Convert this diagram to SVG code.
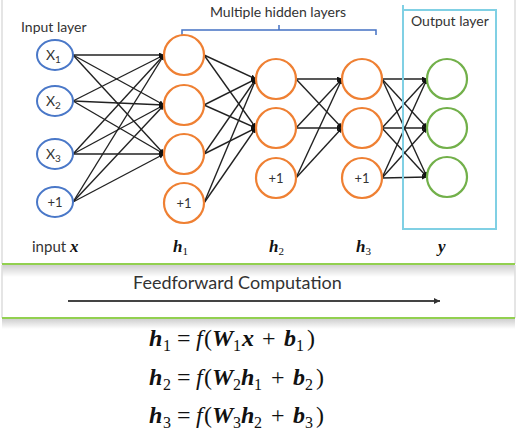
<svg xmlns="http://www.w3.org/2000/svg" width="517" height="444" viewBox="0 0 517 444">
<defs>
<marker id="ah" viewBox="0 0 6 6" refX="6" refY="3" markerWidth="5" markerHeight="5" markerUnits="userSpaceOnUse" orient="auto"><path d="M0,0 L6,3 L0,6 z" fill="#111"/></marker>
<marker id="ah2" viewBox="0 0 6 6" refX="6" refY="3" markerWidth="6" markerHeight="6" markerUnits="userSpaceOnUse" orient="auto"><path d="M0,0 L6,3 L0,6 z" fill="#333"/></marker>
<linearGradient id="sh" x1="0" y1="0" x2="0" y2="1"><stop offset="0" stop-color="#cfcfcf"/><stop offset="1" stop-color="#ffffff"/></linearGradient>
</defs>
<style>
.lab{font-family:Lato,"Liberation Sans",sans-serif;fill:#333;}
.in{fill:#fff;stroke:#4a78c8;stroke-width:2;}
.hid{fill:#fff;stroke:#ef8033;stroke-width:2.2;}
.out{fill:#fff;stroke:#72b04a;stroke-width:2.2;}
.c line{stroke:#222;stroke-width:1.4;marker-end:url(#ah);}
.math{font-family:"Liberation Serif","DejaVu Serif",serif;fill:#111;}
.bi{font-weight:bold;font-style:italic;}
.eq{font-size:24px;}
.eq .s{font-size:16px;}
</style>
<rect x="0" y="0" width="517" height="444" fill="#fff"/>
<g id="panels">
<line x1="2" y1="0" x2="2" y2="264" stroke="#ddd" stroke-width="1.5"/>
<line x1="515" y1="0" x2="515" y2="264" stroke="#ddd" stroke-width="1.5"/>
<rect x="2" y="265" width="513" height="12" fill="url(#sh)"/>
<line x1="2" y1="265" x2="2" y2="318" stroke="#ddd" stroke-width="1.5"/>
<line x1="515" y1="265" x2="515" y2="318" stroke="#ddd" stroke-width="1.5"/>
<rect x="2" y="319" width="513" height="10" fill="url(#sh)"/>
<line x1="2" y1="264" x2="515" y2="264" stroke="#92d050" stroke-width="2"/>
<line x1="2" y1="318" x2="515" y2="318" stroke="#92d050" stroke-width="2"/>
</g>
<g id="connectors" class="c">
<line x1="73" y1="55" x2="164" y2="55"/><line x1="73" y1="55" x2="164" y2="105"/><line x1="73" y1="55" x2="164" y2="154"/>
<line x1="73" y1="101" x2="164" y2="55"/><line x1="73" y1="101" x2="164" y2="105"/><line x1="73" y1="101" x2="164" y2="154"/>
<line x1="73" y1="154" x2="164" y2="55"/><line x1="73" y1="154" x2="164" y2="105"/><line x1="73" y1="154" x2="164" y2="154"/>
<line x1="73" y1="202" x2="164" y2="55"/><line x1="73" y1="202" x2="164" y2="105"/><line x1="73" y1="202" x2="164" y2="154"/>
<line x1="204" y1="55" x2="256" y2="79"/><line x1="204" y1="55" x2="256" y2="128"/>
<line x1="204" y1="105" x2="256" y2="79"/><line x1="204" y1="105" x2="256" y2="128"/>
<line x1="204" y1="154" x2="256" y2="79"/><line x1="204" y1="154" x2="256" y2="128"/>
<line x1="204" y1="203" x2="256" y2="79"/><line x1="204" y1="203" x2="256" y2="128"/>
<line x1="296" y1="79" x2="342" y2="79"/><line x1="296" y1="79" x2="342" y2="128"/>
<line x1="296" y1="128" x2="342" y2="79"/><line x1="296" y1="128" x2="342" y2="128"/>
<line x1="296" y1="178" x2="342" y2="79"/><line x1="296" y1="178" x2="342" y2="128"/>
<line x1="382" y1="79" x2="427" y2="79"/><line x1="382" y1="79" x2="427" y2="128"/><line x1="382" y1="79" x2="427" y2="177"/>
<line x1="382" y1="128" x2="427" y2="79"/><line x1="382" y1="128" x2="427" y2="128"/><line x1="382" y1="128" x2="427" y2="177"/>
<line x1="382" y1="178" x2="427" y2="79"/><line x1="382" y1="178" x2="427" y2="128"/><line x1="382" y1="178" x2="427" y2="177"/>
</g>
<g id="hidden-bracket">
<path d="M182,36 V30 H376 V35 M279,30 V25" fill="none" stroke="#4472c4" stroke-width="1.5"/>
<text class="lab" x="210" y="17" font-size="14">Multiple hidden layers</text>
</g>
<g id="output-layer">
<path d="M403,5 V229 H496 V10 H403" fill="none" stroke="#80d0e4" stroke-width="2"/>
<text class="lab" x="411" y="26" font-size="14">Output layer</text>
</g>
<g id="input-layer-label"><text class="lab" x="21" y="32" font-size="14">Input layer</text></g>
<g id="x1"><ellipse class="in" cx="55" cy="55" rx="18" ry="15"/><text class="lab" x="46" y="60" font-size="14">X<tspan font-size="10" dy="3">1</tspan></text></g>
<g id="x2"><ellipse class="in" cx="55" cy="101" rx="18" ry="15"/><text class="lab" x="46" y="106" font-size="14">X<tspan font-size="10" dy="3">2</tspan></text></g>
<g id="x3"><ellipse class="in" cx="55" cy="154" rx="18" ry="15"/><text class="lab" x="46" y="159" font-size="14">X<tspan font-size="10" dy="3">3</tspan></text></g>
<g id="xb"><ellipse class="in" cx="55" cy="202" rx="18" ry="15"/><text class="lab" x="55" y="207" font-size="13" text-anchor="middle">+1</text></g>
<g id="h1a"><circle class="hid" cx="184" cy="55" r="20"/></g>
<g id="h1b"><circle class="hid" cx="184" cy="105" r="20"/></g>
<g id="h1c"><circle class="hid" cx="184" cy="154" r="20"/></g>
<g id="h1d"><circle class="hid" cx="184" cy="203" r="20"/><text class="lab" x="184" y="208" font-size="13" text-anchor="middle">+1</text></g>
<g id="h2a"><circle class="hid" cx="276" cy="79" r="20"/></g>
<g id="h2b"><circle class="hid" cx="276" cy="128" r="20"/></g>
<g id="h2c"><circle class="hid" cx="276" cy="178" r="20"/><text class="lab" x="276" y="183" font-size="13" text-anchor="middle">+1</text></g>
<g id="h3a"><circle class="hid" cx="362" cy="79" r="20"/></g>
<g id="h3b"><circle class="hid" cx="362" cy="128" r="20"/></g>
<g id="h3c"><circle class="hid" cx="362" cy="178" r="20"/><text class="lab" x="362" y="183" font-size="13" text-anchor="middle">+1</text></g>
<g id="ya"><circle class="out" cx="447" cy="79" r="20"/></g>
<g id="yb"><circle class="out" cx="447" cy="128" r="20"/></g>
<g id="yc"><circle class="out" cx="447" cy="177" r="20"/></g>
<g id="bottom-labels">
<text class="lab" x="32" y="252" font-size="15">input <tspan class="math bi" font-size="17">x</tspan></text>
<text class="math bi" x="173" y="252" font-size="17">h<tspan font-size="11" dy="3" font-weight="normal" font-style="normal">1</tspan></text>
<text class="math bi" x="269" y="252" font-size="17">h<tspan font-size="11" dy="3" font-weight="normal" font-style="normal">2</tspan></text>
<text class="math bi" x="356" y="252" font-size="17">h<tspan font-size="11" dy="3" font-weight="normal" font-style="normal">3</tspan></text>
<text class="math bi" x="438" y="252" font-size="17">y</text>
</g>
<g id="feedforward">
<text class="lab" x="133" y="289" font-size="18" fill="#222">Feedforward Computation</text>
<line x1="68" y1="301" x2="440" y2="301" stroke="#444" stroke-width="2" marker-end="url(#ah2)"/>
</g>
<g id="equations" class="math eq">
<text y="346"><tspan class="bi" x="149">h</tspan><tspan class="s" x="163" dy="5">1</tspan><tspan x="177" dy="-5">=</tspan><tspan x="196" font-style="italic">f</tspan><tspan x="204">(</tspan><tspan class="bi" x="212">W</tspan><tspan class="s" x="233" dy="5">1</tspan><tspan class="bi" x="242" dy="-5">x</tspan><tspan x="262">+</tspan><tspan class="bi" x="284">b</tspan><tspan class="s" x="296" dy="5">1</tspan><tspan x="307" dy="-5">)</tspan></text>
<text y="385"><tspan class="bi" x="149">h</tspan><tspan class="s" x="163" dy="5">2</tspan><tspan x="177" dy="-5">=</tspan><tspan x="196" font-style="italic">f</tspan><tspan x="204">(</tspan><tspan class="bi" x="212">W</tspan><tspan class="s" x="233" dy="5">2</tspan><tspan class="bi" x="241" dy="-5">h</tspan><tspan class="s" x="254" dy="5">1</tspan><tspan x="271" dy="-5">+</tspan><tspan class="bi" x="293">b</tspan><tspan class="s" x="305" dy="5">2</tspan><tspan x="316" dy="-5">)</tspan></text>
<text y="423"><tspan class="bi" x="149">h</tspan><tspan class="s" x="163" dy="5">3</tspan><tspan x="177" dy="-5">=</tspan><tspan x="196" font-style="italic">f</tspan><tspan x="204">(</tspan><tspan class="bi" x="212">W</tspan><tspan class="s" x="233" dy="5">3</tspan><tspan class="bi" x="241" dy="-5">h</tspan><tspan class="s" x="254" dy="5">2</tspan><tspan x="271" dy="-5">+</tspan><tspan class="bi" x="293">b</tspan><tspan class="s" x="305" dy="5">3</tspan><tspan x="316" dy="-5">)</tspan></text>
</g>
</svg>
